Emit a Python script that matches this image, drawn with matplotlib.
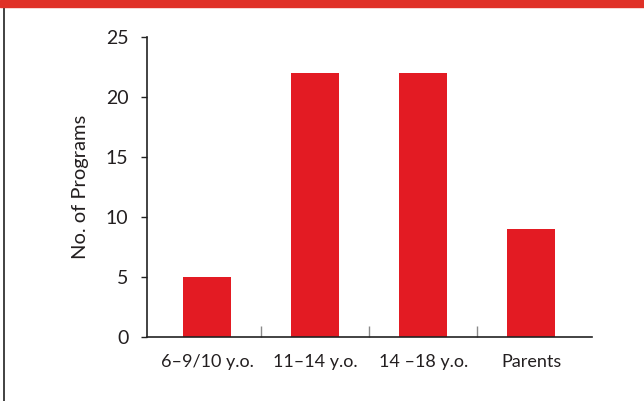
import numpy as np
import matplotlib.pyplot as plt
from matplotlib.patches import Rectangle
from matplotlib.lines import Line2D

# programs per audience group
groups = ['6–9/10 y.o.', '11–14 y.o.', '14 –18 y.o.', 'Parents']
counts = [5, 22, 22, 9]
yticks = [0, 5, 10, 15, 20, 25]

plt.rcParams['font.family'] = ['Lato', 'DejaVu Sans']

fig = plt.figure(figsize=(6.44, 4.01), dpi=100)
ax = fig.add_axes([0.2283, 0.1596, 0.6905, 0.7481])

x = np.arange(len(groups))
ax.bar(x, counts, width=0.445, color='#e31b23', zorder=2)

ax.set_xlim(-0.556, 3.56)
ax.set_ylim(0, 25)

# only left and bottom axis lines
for side in ['top', 'right']:
    ax.spines[side].set_visible(False)
for side in ['left', 'bottom']:
    ax.spines[side].set_color('#222222')
    ax.spines[side].set_linewidth(1.2)

ax.set_yticks(yticks)
ax.set_yticklabels([str(v) for v in yticks])
ax.tick_params(axis='y', direction='out', length=4.5, width=1.0, color='#222222',
               pad=9, labelsize=14, labelcolor='#231f20')

# category labels sit under the bars, separator ticks sit between them
ax.set_xticks(x)
ax.set_xticklabels(groups)
ax.tick_params(axis='x', which='major', length=0, pad=12, labelsize=13, labelcolor='#231f20')
ax.set_xticks(x[:-1] + 0.5, minor=True)
ax.tick_params(axis='x', which='minor', direction='in', length=8, width=1.0, color='#8a8a8a')

ax.set_ylabel('No. of Programs', fontsize=14.5, color='#231f20', labelpad=12)

# red header band and left frame line
fig.patches.append(Rectangle((0, 1 - 7 / 401), 1, 7 / 401, transform=fig.transFigure,
                             color='#e03127', zorder=5))
fig.lines.append(Line2D([3.5 / 644, 3.5 / 644], [0, 1 - 7 / 401], transform=fig.transFigure,
                        color='#333333', linewidth=1.3))

fig.savefig('out.png', dpi=100)
